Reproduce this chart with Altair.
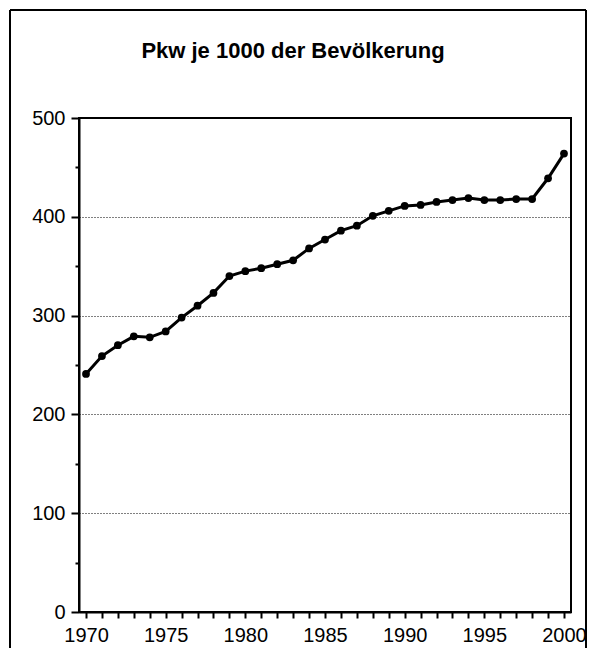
import altair as alt
import pandas as pd

TITLE = "Pkw je 1000 der Bevölkerung"
years = list(range(1970, 2001))
pkw = [241, 259, 270, 279, 278, 284, 298, 310, 323, 340,
       345, 348, 352, 356, 368, 377, 386, 391, 401, 406,
       411, 412, 415, 417, 419, 417, 417, 418, 418, 439, 464]
y_ticks = list(range(0, 501, 50))
x_ticks = years

FONT = "Liberation Sans Narrow, Arial Narrow, Liberation Sans, sans-serif"

df = pd.DataFrame({"Jahr": years, "Pkw": pkw})

W, H = 492, 494

x = alt.X("Jahr:Q",
          scale=alt.Scale(domain=[1969.56, 2000.44], nice=False, zero=False),
          axis=alt.Axis(values=x_ticks, tickCount=len(x_ticks), title=None, grid=False,
                        labelExpr="datum.value % 5 == 0 ? datum.value : ''",
                        tickSize=6, tickWidth=2, tickColor="black",
                        domainColor="black", domainWidth=2,
                        labelFont=FONT, labelFontSize=20, labelColor="black",
                        labelPadding=7, labelFlush=False, labelOverlap=False))
y = alt.Y("Pkw:Q",
          scale=alt.Scale(domain=[0, 500], nice=False),
          axis=alt.Axis(values=y_ticks, tickCount=len(y_ticks), title=None,
                        labelExpr="datum.value % 100 == 0 ? datum.value : ''",
                        tickSize={"condition": {"test": "datum.value % 100 == 0", "value": 8}, "value": 4},
                        tickWidth=2, tickColor="black",
                        domainColor="black", domainWidth=2,
                        grid=True, gridColor="black", gridWidth=1, gridDash=[1, 2],
                        gridOpacity={"condition": {"test": "datum.value % 100 == 0 && datum.value > 0 && datum.value < 500", "value": 1}, "value": 0},
                        labelFont=FONT, labelFontSize=20, labelColor="black",
                        labelPadding=6, labelFlush=False, labelOverlap=False))

line = alt.Chart(df).mark_line(color="black", strokeWidth=3).encode(x=x, y=y)
pts = alt.Chart(df).mark_circle(color="black", opacity=1, size=60).encode(x="Jahr:Q", y="Pkw:Q")

title = alt.Chart(pd.DataFrame({"t": [TITLE]})).mark_text(
    font=FONT, fontSize=22, fontWeight="bold", color="black",
    align="center", baseline="alphabetic"
).encode(text="t:N", x=alt.value(214), y=alt.value(-60))

frame = alt.Chart(pd.DataFrame({"k": [0]})).mark_rule(color="black", strokeWidth=2).encode(
    x=alt.value(-69), x2=alt.value(507), y=alt.value(-108))
frame_l = alt.Chart(pd.DataFrame({"k": [0]})).mark_rule(color="black", strokeWidth=2).encode(
    x=alt.value(-69), y=alt.value(-108), y2=alt.value(540))
frame_r = alt.Chart(pd.DataFrame({"k": [0]})).mark_rule(color="black", strokeWidth=2).encode(
    x=alt.value(507), y=alt.value(-108), y2=alt.value(540))

chart = alt.layer(line, pts, title, frame, frame_l, frame_r).properties(
    width=W, height=H,
    autosize=alt.AutoSizeParams(type="none"),
    padding={"left": 71, "top": 110, "right": 17, "bottom": 36},
    background="white"
).configure_view(stroke="black", strokeWidth=2)

chart.save("out.html", embed_options={"renderer": "svg", "actions": False})
